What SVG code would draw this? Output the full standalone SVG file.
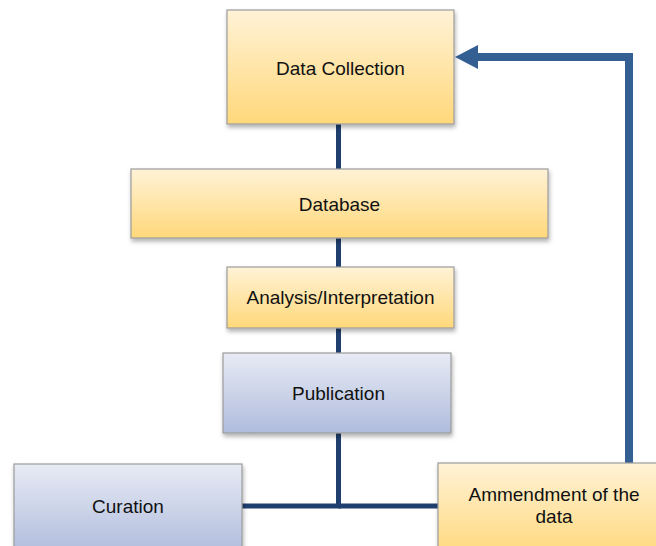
<svg xmlns="http://www.w3.org/2000/svg" width="656" height="546" viewBox="0 0 656 546">
<defs>
<linearGradient id="gy" x1="0" y1="0" x2="0" y2="1">
<stop offset="0" stop-color="#FFF2D6"/>
<stop offset="1" stop-color="#FFD87A"/>
</linearGradient>
<linearGradient id="gb" x1="0" y1="0" x2="0" y2="1">
<stop offset="0" stop-color="#E8EBF5"/>
<stop offset="1" stop-color="#AFBCDC"/>
</linearGradient>
<filter id="sh" x="-10%" y="-10%" width="120%" height="130%">
<feDropShadow dx="1" dy="3" stdDeviation="2" flood-color="#000" flood-opacity="0.3"/>
</filter>
</defs>
<style>
.y{fill:url(#gy);stroke:#9C9C9C;stroke-width:1.2;filter:url(#sh)}
.b{fill:url(#gb);stroke:#9C9C9C;stroke-width:1.2;filter:url(#sh)}
.t{font-family:"Liberation Sans",Arial,sans-serif;font-size:19px;fill:#111;text-anchor:middle}
.c{stroke:#1F3F6E;stroke-width:5;fill:none}
.f{stroke:#335F93;stroke-width:8;fill:none}
.h{fill:#335F93}
</style>
<g id="connectors">
<line class="c" x1="338.5" y1="124" x2="338.5" y2="169"/>
<line class="c" x1="338.5" y1="238" x2="338.5" y2="267"/>
<line class="c" x1="338.5" y1="328" x2="338.5" y2="353"/>
<polyline class="c" points="338.5,433 338.5,506 242,506"/>
<line class="c" x1="338.5" y1="506" x2="438" y2="506"/>
<polyline class="f" points="629,463 629,57 476,57"/>
<polygon class="h" points="455,57 478,45 478,69"/>
</g>
<g id="data-collection">
<rect class="y" x="227" y="10" width="227" height="114"/>
<text class="t" x="340.5" y="75">Data Collection</text>
</g>
<g id="database">
<rect class="y" x="131" y="169" width="417" height="69"/>
<text class="t" x="339.5" y="211">Database</text>
</g>
<g id="analysis">
<rect class="y" x="227" y="267" width="227" height="61"/>
<text class="t" x="340.5" y="304">Analysis/Interpretation</text>
</g>
<g id="publication">
<rect class="b" x="223" y="353" width="228" height="80"/>
<text class="t" x="338.5" y="400">Publication</text>
</g>
<g id="curation">
<rect class="b" x="14" y="464" width="228" height="90"/>
<text class="t" x="128" y="513">Curation</text>
</g>
<g id="amendment">
<rect class="y" x="438" y="463" width="232" height="95"/>
<text class="t" x="554" y="501">Ammendment of the</text>
<text class="t" x="554" y="523">data</text>
</g>
</svg>
